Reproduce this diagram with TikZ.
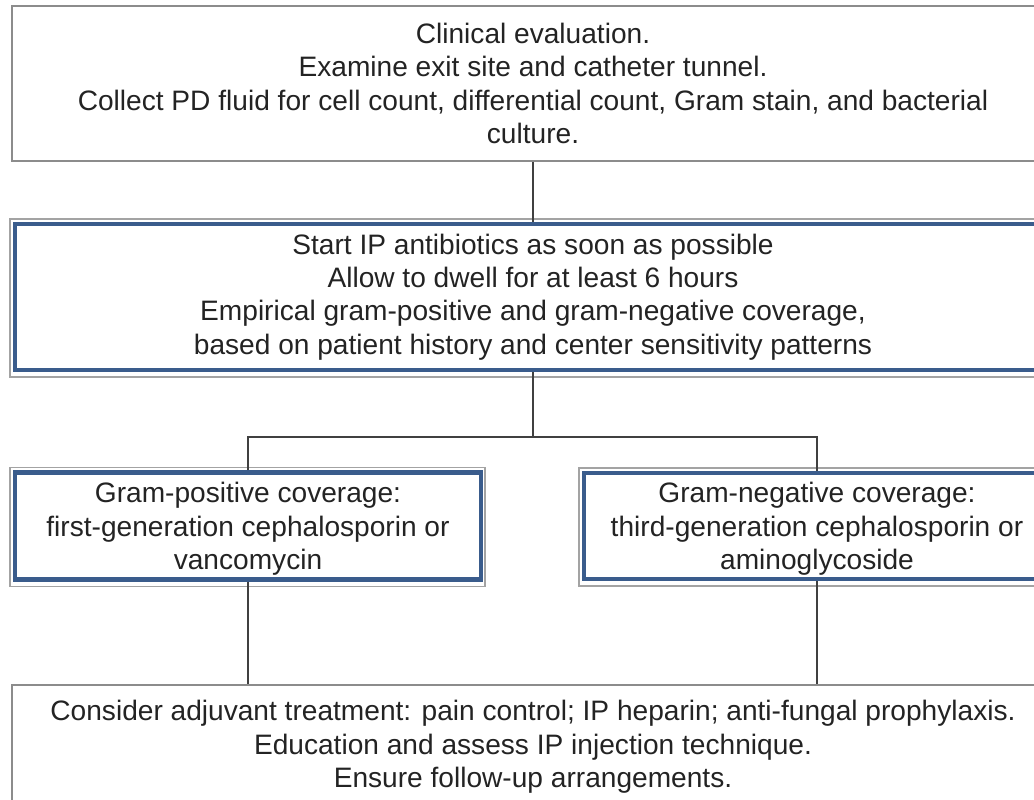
\documentclass[tikz,border=0pt]{standalone}
\usepackage{fontspec}
\setmainfont{Liberation Sans}
\definecolor{boxblue}{RGB}{58,92,140}
\definecolor{framegray}{RGB}{140,140,140}
\definecolor{inkgray}{RGB}{35,35,35}

\begin{document}
\begin{tikzpicture}[x=0.02cm, y=-0.02cm,
		every node/.style={text=inkgray, font=\fontsize{16}{19}\selectfont, align=center, inner sep=0pt},
		plainbox/.style={draw=framegray, line width=1pt},
		bluebox/.style={draw=boxblue, line width=2.3pt},
		frame/.style={draw=framegray!80, line width=0.7pt},
		link/.style={draw=black!75, line width=0.8pt}]
			\useasboundingbox (0,0) rectangle (1034,800);
			\clip (0,0) rectangle (1034,800);
			% boxes
			\node[plainbox, minimum width=20.84cm, minimum height=3.1cm] (eval) at (533,83.5)
				{Clinical evaluation.\\Examine exit site and catheter tunnel.\\Collect PD fluid for cell count, differential count, Gram stain, and bacterial\\culture.};
			\node[bluebox, minimum width=20.72cm, minimum height=2.92cm] (start) at (533,297)
				{Start IP antibiotics as soon as possible\\Allow to dwell for at least 6 hours\\Empirical gram-positive and gram-negative coverage,\\based on patient history and center sensitivity patterns};
			\node[bluebox, minimum width=9.32cm, minimum height=2.14cm] (gpos) at (248,526)
				{\\[-4pt]Gram-positive coverage:\\first-generation cephalosporin or\\vancomycin};
			\node[bluebox, minimum width=9.32cm, minimum height=2.12cm] (gneg) at (817,526)
				{\\[-4pt]Gram-negative coverage:\\third-generation cephalosporin or\\aminoglycoside};
			\node[plainbox, minimum width=20.84cm, minimum height=2.48cm] (adj) at (533,747)
				{Consider adjuvant treatment: pain control; IP heparin; anti-fungal prophylaxis.\\Education and assess IP injection technique.\\Ensure follow-up arrangements.};
			% grey outer frames of the blue boxes
			\foreach \n in {start, gpos, gneg}
				\draw[frame] ([shift={(-3,-3)}]\n.north west) rectangle ([shift={(2,5)}]\n.south east);
			% connectors
			\coordinate (split) at (533,437);
			\draw[link] (eval.south) -- (start.north);
			\draw[link] (start.south) -- (split);
			\draw[link] (gpos.north) |- (split) -| (gneg.north);
			\draw[link] (gpos.south) -- (gpos.south |- adj.north);
			\draw[link] (gneg.south) -- (gneg.south |- adj.north);
\end{tikzpicture}
\end{document}
